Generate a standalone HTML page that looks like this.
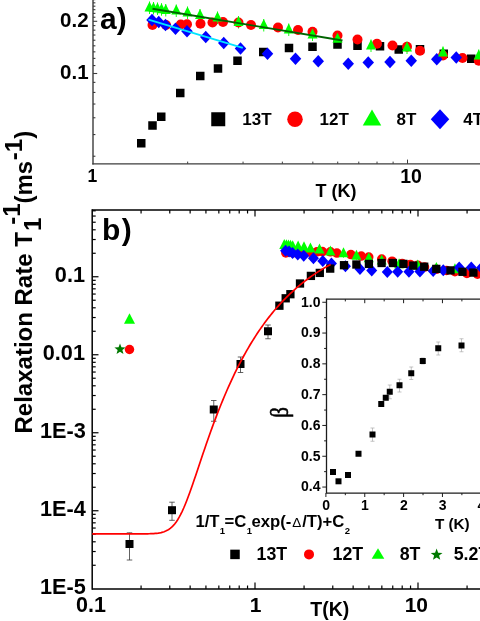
<!DOCTYPE html>
<html><head><meta charset="utf-8"><title>Relaxation Rate</title>
<style>html,body{margin:0;padding:0;background:#fff;overflow:hidden;width:480px;height:621px;}svg{display:block;position:absolute;left:0;top:-20px;filter:blur(0.45px);}</style></head>
<body>
<svg width="520" height="661" viewBox="0 -20 520 661">
<rect x="-20" y="-20" width="560" height="700" fill="#fff"/>
<line x1="93.00" y1="-15.00" x2="93.00" y2="164.40" stroke="#3c3c3c" stroke-width="1.4"/>
<line x1="92.30" y1="163.80" x2="510.00" y2="163.80" stroke="#3c3c3c" stroke-width="1.3"/>
<line x1="93.00" y1="156.23" x2="95.40" y2="156.23" stroke="#3c3c3c" stroke-width="1.1"/>
<line x1="93.00" y1="134.57" x2="95.40" y2="134.57" stroke="#3c3c3c" stroke-width="1.1"/>
<line x1="93.00" y1="117.76" x2="95.40" y2="117.76" stroke="#3c3c3c" stroke-width="1.1"/>
<line x1="93.00" y1="104.03" x2="95.40" y2="104.03" stroke="#3c3c3c" stroke-width="1.1"/>
<line x1="93.00" y1="92.43" x2="95.40" y2="92.43" stroke="#3c3c3c" stroke-width="1.1"/>
<line x1="93.00" y1="82.37" x2="95.40" y2="82.37" stroke="#3c3c3c" stroke-width="1.1"/>
<line x1="93.00" y1="73.50" x2="97.20" y2="73.50" stroke="#3c3c3c" stroke-width="1.1"/>
<line x1="93.00" y1="65.57" x2="95.40" y2="65.57" stroke="#3c3c3c" stroke-width="1.1"/>
<line x1="93.00" y1="58.39" x2="95.40" y2="58.39" stroke="#3c3c3c" stroke-width="1.1"/>
<line x1="93.00" y1="51.84" x2="95.40" y2="51.84" stroke="#3c3c3c" stroke-width="1.1"/>
<line x1="93.00" y1="45.81" x2="95.40" y2="45.81" stroke="#3c3c3c" stroke-width="1.1"/>
<line x1="93.00" y1="40.23" x2="95.40" y2="40.23" stroke="#3c3c3c" stroke-width="1.1"/>
<line x1="93.00" y1="35.03" x2="95.40" y2="35.03" stroke="#3c3c3c" stroke-width="1.1"/>
<line x1="93.00" y1="30.17" x2="95.40" y2="30.17" stroke="#3c3c3c" stroke-width="1.1"/>
<line x1="93.00" y1="25.61" x2="95.40" y2="25.61" stroke="#3c3c3c" stroke-width="1.1"/>
<line x1="93.00" y1="21.30" x2="97.20" y2="21.30" stroke="#3c3c3c" stroke-width="1.1"/>
<line x1="93.00" y1="17.23" x2="95.40" y2="17.23" stroke="#3c3c3c" stroke-width="1.1"/>
<line x1="93.00" y1="13.37" x2="95.40" y2="13.37" stroke="#3c3c3c" stroke-width="1.1"/>
<line x1="93.00" y1="9.69" x2="95.40" y2="9.69" stroke="#3c3c3c" stroke-width="1.1"/>
<line x1="93.00" y1="6.19" x2="95.40" y2="6.19" stroke="#3c3c3c" stroke-width="1.1"/>
<line x1="93.00" y1="2.84" x2="95.40" y2="2.84" stroke="#3c3c3c" stroke-width="1.1"/>
<line x1="93.00" y1="-0.36" x2="95.40" y2="-0.36" stroke="#3c3c3c" stroke-width="1.1"/>
<line x1="407.50" y1="163.80" x2="407.50" y2="159.60" stroke="#3c3c3c" stroke-width="1.0"/>
<line x1="187.67" y1="163.80" x2="187.67" y2="161.60" stroke="#3c3c3c" stroke-width="1.0"/>
<line x1="502.17" y1="163.80" x2="502.17" y2="161.60" stroke="#3c3c3c" stroke-width="1.0"/>
<line x1="243.05" y1="163.80" x2="243.05" y2="161.60" stroke="#3c3c3c" stroke-width="1.0"/>
<line x1="282.35" y1="163.80" x2="282.35" y2="161.60" stroke="#3c3c3c" stroke-width="1.0"/>
<line x1="312.83" y1="163.80" x2="312.83" y2="161.60" stroke="#3c3c3c" stroke-width="1.0"/>
<line x1="337.73" y1="163.80" x2="337.73" y2="161.60" stroke="#3c3c3c" stroke-width="1.0"/>
<line x1="358.78" y1="163.80" x2="358.78" y2="161.60" stroke="#3c3c3c" stroke-width="1.0"/>
<line x1="377.02" y1="163.80" x2="377.02" y2="161.60" stroke="#3c3c3c" stroke-width="1.0"/>
<line x1="393.11" y1="163.80" x2="393.11" y2="161.60" stroke="#3c3c3c" stroke-width="1.0"/>
<text transform="translate(88.6,26.9) scale(1.0,1)" font-size="20.5" text-anchor="end" font-family="Liberation Sans, sans-serif" font-weight="bold" >0.2</text>
<text transform="translate(88.6,79.1) scale(1.0,1)" font-size="20.5" text-anchor="end" font-family="Liberation Sans, sans-serif" font-weight="bold" >0.1</text>
<text transform="translate(100,28.6) scale(1.0,1)" font-size="30" text-anchor="start" font-family="Liberation Sans, sans-serif" font-weight="bold" >a)</text>
<text transform="translate(92.3,181.8) scale(1.0,1)" font-size="17.5" text-anchor="middle" font-family="Liberation Sans, sans-serif" font-weight="bold" >1</text>
<text transform="translate(411,182.5) scale(1.0,1)" font-size="19.5" text-anchor="middle" font-family="Liberation Sans, sans-serif" font-weight="bold" >10</text>
<text transform="translate(336,197.1) scale(1.0,1)" font-size="18" text-anchor="middle" font-family="Liberation Sans, sans-serif" font-weight="bold" >T (K)</text>
<line x1="149.50" y1="1.50" x2="149.50" y2="14.00" stroke="#0f0" stroke-width="0.9"/>
<line x1="153.50" y1="2.00" x2="153.50" y2="14.50" stroke="#0f0" stroke-width="0.9"/>
<line x1="157.50" y1="2.50" x2="157.50" y2="15.00" stroke="#0f0" stroke-width="0.9"/>
<line x1="161.50" y1="3.20" x2="161.50" y2="15.70" stroke="#0f0" stroke-width="0.9"/>
<line x1="165.75" y1="4.00" x2="165.75" y2="16.50" stroke="#0f0" stroke-width="0.9"/>
<line x1="176.25" y1="4.50" x2="176.25" y2="17.00" stroke="#0f0" stroke-width="0.9"/>
<line x1="187.50" y1="6.50" x2="187.50" y2="19.00" stroke="#0f0" stroke-width="0.9"/>
<line x1="200.00" y1="9.00" x2="200.00" y2="21.50" stroke="#0f0" stroke-width="0.9"/>
<line x1="217.50" y1="11.50" x2="217.50" y2="24.00" stroke="#0f0" stroke-width="0.9"/>
<line x1="238.50" y1="16.00" x2="238.50" y2="28.50" stroke="#0f0" stroke-width="0.9"/>
<line x1="263.75" y1="19.00" x2="263.75" y2="31.50" stroke="#0f0" stroke-width="0.9"/>
<line x1="288.75" y1="23.50" x2="288.75" y2="36.00" stroke="#0f0" stroke-width="0.9"/>
<line x1="312.50" y1="28.50" x2="312.50" y2="41.00" stroke="#0f0" stroke-width="0.9"/>
<line x1="337.50" y1="32.75" x2="337.50" y2="45.25" stroke="#0f0" stroke-width="0.9"/>
<line x1="371.00" y1="39.50" x2="371.00" y2="52.00" stroke="#0f0" stroke-width="0.9"/>
<line x1="407.00" y1="41.50" x2="407.00" y2="54.00" stroke="#0f0" stroke-width="0.9"/>
<line x1="443.00" y1="46.50" x2="443.00" y2="59.00" stroke="#0f0" stroke-width="0.9"/>
<line x1="478.75" y1="49.50" x2="478.75" y2="62.00" stroke="#0f0" stroke-width="0.9"/>
<rect x="137.00" y="139.00" width="8.5" height="8.5" fill="#000"/>
<rect x="148.25" y="121.25" width="8.5" height="8.5" fill="#000"/>
<rect x="157.00" y="112.50" width="8.5" height="8.5" fill="#000"/>
<rect x="176.00" y="88.75" width="8.5" height="8.5" fill="#000"/>
<rect x="196.00" y="71.75" width="8.5" height="8.5" fill="#000"/>
<rect x="213.75" y="64.25" width="8.5" height="8.5" fill="#000"/>
<rect x="233.25" y="56.50" width="8.5" height="8.5" fill="#000"/>
<rect x="259.00" y="47.75" width="8.5" height="8.5" fill="#000"/>
<rect x="284.75" y="43.75" width="8.5" height="8.5" fill="#000"/>
<rect x="308.25" y="42.50" width="8.5" height="8.5" fill="#000"/>
<rect x="333.25" y="40.25" width="8.5" height="8.5" fill="#000"/>
<rect x="353.25" y="41.50" width="8.5" height="8.5" fill="#000"/>
<rect x="375.75" y="42.00" width="8.5" height="8.5" fill="#000"/>
<rect x="394.50" y="45.25" width="8.5" height="8.5" fill="#000"/>
<rect x="415.75" y="45.00" width="8.5" height="8.5" fill="#000"/>
<rect x="439.50" y="49.50" width="8.5" height="8.5" fill="#000"/>
<rect x="467.00" y="54.50" width="8.5" height="8.5" fill="#000"/>
<circle cx="152.50" cy="25.00" r="5.0" fill="#f00"/>
<circle cx="166.00" cy="25.00" r="5.0" fill="#f00"/>
<circle cx="180.75" cy="24.50" r="5.0" fill="#f00"/>
<circle cx="187.00" cy="24.25" r="5.0" fill="#f00"/>
<circle cx="200.50" cy="23.75" r="5.0" fill="#f00"/>
<circle cx="212.50" cy="22.50" r="5.0" fill="#f00"/>
<circle cx="223.00" cy="22.00" r="5.0" fill="#f00"/>
<circle cx="238.50" cy="22.50" r="5.0" fill="#f00"/>
<circle cx="251.00" cy="25.00" r="5.0" fill="#f00"/>
<circle cx="278.00" cy="27.50" r="5.0" fill="#f00"/>
<circle cx="298.00" cy="30.00" r="5.0" fill="#f00"/>
<circle cx="312.50" cy="31.75" r="5.0" fill="#f00"/>
<circle cx="337.50" cy="35.50" r="5.0" fill="#f00"/>
<circle cx="357.50" cy="39.50" r="5.0" fill="#f00"/>
<circle cx="377.00" cy="43.75" r="5.0" fill="#f00"/>
<circle cx="392.50" cy="45.50" r="5.0" fill="#f00"/>
<circle cx="407.00" cy="46.75" r="5.0" fill="#f00"/>
<circle cx="420.00" cy="50.75" r="5.0" fill="#f00"/>
<circle cx="443.00" cy="55.50" r="5.0" fill="#f00"/>
<circle cx="462.50" cy="58.00" r="5.0" fill="#f00"/>
<circle cx="478.75" cy="60.75" r="5.0" fill="#f00"/>
<path d="M146.25 20.00 L152.00 13.75 L157.75 20.00 L152.00 26.25Z" fill="#00f"/>
<path d="M153.00 22.00 L158.75 15.75 L164.50 22.00 L158.75 28.25Z" fill="#00f"/>
<path d="M159.75 25.00 L165.50 18.75 L171.25 25.00 L165.50 31.25Z" fill="#00f"/>
<path d="M169.75 28.75 L175.50 22.50 L181.25 28.75 L175.50 35.00Z" fill="#00f"/>
<path d="M181.25 31.25 L187.00 25.00 L192.75 31.25 L187.00 37.50Z" fill="#00f"/>
<path d="M200.00 37.00 L205.75 30.75 L211.50 37.00 L205.75 43.25Z" fill="#00f"/>
<path d="M218.00 43.00 L223.75 36.75 L229.50 43.00 L223.75 49.25Z" fill="#00f"/>
<path d="M234.75 48.50 L240.50 42.25 L246.25 48.50 L240.50 54.75Z" fill="#00f"/>
<path d="M261.75 53.75 L267.50 47.50 L273.25 53.75 L267.50 60.00Z" fill="#00f"/>
<path d="M289.75 58.75 L295.50 52.50 L301.25 58.75 L295.50 65.00Z" fill="#00f"/>
<path d="M312.50 61.25 L318.25 55.00 L324.00 61.25 L318.25 67.50Z" fill="#00f"/>
<path d="M342.50 63.75 L348.25 57.50 L354.00 63.75 L348.25 70.00Z" fill="#00f"/>
<path d="M362.50 62.50 L368.25 56.25 L374.00 62.50 L368.25 68.75Z" fill="#00f"/>
<path d="M384.25 62.00 L390.00 55.75 L395.75 62.00 L390.00 68.25Z" fill="#00f"/>
<path d="M405.50 60.75 L411.25 54.50 L417.00 60.75 L411.25 67.00Z" fill="#00f"/>
<path d="M431.00 59.25 L436.75 53.00 L442.50 59.25 L436.75 65.50Z" fill="#00f"/>
<path d="M450.50 57.50 L456.25 51.25 L462.00 57.50 L456.25 63.75Z" fill="#00f"/>
<path d="M144.50 11.50 L154.50 11.50 L149.50 1.50Z" fill="#0f0"/>
<path d="M148.50 12.00 L158.50 12.00 L153.50 2.00Z" fill="#0f0"/>
<path d="M152.50 12.50 L162.50 12.50 L157.50 2.50Z" fill="#0f0"/>
<path d="M156.50 13.20 L166.50 13.20 L161.50 3.20Z" fill="#0f0"/>
<path d="M160.75 14.00 L170.75 14.00 L165.75 4.00Z" fill="#0f0"/>
<path d="M171.25 14.50 L181.25 14.50 L176.25 4.50Z" fill="#0f0"/>
<path d="M182.50 16.50 L192.50 16.50 L187.50 6.50Z" fill="#0f0"/>
<path d="M195.00 19.00 L205.00 19.00 L200.00 9.00Z" fill="#0f0"/>
<path d="M212.50 21.50 L222.50 21.50 L217.50 11.50Z" fill="#0f0"/>
<path d="M233.50 26.00 L243.50 26.00 L238.50 16.00Z" fill="#0f0"/>
<path d="M258.75 29.00 L268.75 29.00 L263.75 19.00Z" fill="#0f0"/>
<path d="M283.75 33.50 L293.75 33.50 L288.75 23.50Z" fill="#0f0"/>
<path d="M307.50 38.50 L317.50 38.50 L312.50 28.50Z" fill="#0f0"/>
<path d="M332.50 42.75 L342.50 42.75 L337.50 32.75Z" fill="#0f0"/>
<path d="M366.00 49.50 L376.00 49.50 L371.00 39.50Z" fill="#0f0"/>
<path d="M402.00 51.50 L412.00 51.50 L407.00 41.50Z" fill="#0f0"/>
<path d="M438.00 56.50 L448.00 56.50 L443.00 46.50Z" fill="#0f0"/>
<path d="M473.75 59.50 L483.75 59.50 L478.75 49.50Z" fill="#0f0"/>
<line x1="152.50" y1="8.75" x2="342.50" y2="40.50" stroke="#006400" stroke-width="1.9"/>
<line x1="148.50" y1="19.60" x2="242.80" y2="47.80" stroke="#00e5ff" stroke-width="1.9"/>
<rect x="211.25" y="112.25" width="14" height="14" fill="#000"/>
<text transform="translate(242.3,125.1) scale(1.0,1)" font-size="17" text-anchor="start" font-family="Liberation Sans, sans-serif" font-weight="bold" >13T</text>
<circle cx="295.00" cy="119.25" r="7.75" fill="#f00"/>
<text transform="translate(319.6,125.1) scale(1.0,1)" font-size="17" text-anchor="start" font-family="Liberation Sans, sans-serif" font-weight="bold" >12T</text>
<path d="M362.75 125.40 L381.25 125.40 L372.00 109.40Z" fill="#0f0"/>
<text transform="translate(396.5,125.1) scale(1.0,1)" font-size="17" text-anchor="start" font-family="Liberation Sans, sans-serif" font-weight="bold" >8T</text>
<path d="M430.75 119.25 L440.00 109.25 L449.25 119.25 L440.00 129.25Z" fill="#00f"/>
<text transform="translate(463.3,125.1) scale(1.0,1)" font-size="17" text-anchor="start" font-family="Liberation Sans, sans-serif" font-weight="bold" >4T</text>
<line x1="92.20" y1="209.30" x2="92.20" y2="589.70" stroke="#000" stroke-width="1.5"/>
<line x1="92.20" y1="210.00" x2="510.00" y2="210.00" stroke="#000" stroke-width="1.5"/>
<line x1="92.20" y1="589.00" x2="510.00" y2="589.00" stroke="#000" stroke-width="1.5"/>
<line x1="141.07" y1="210.00" x2="141.07" y2="213.50" stroke="#000" stroke-width="1.2"/>
<line x1="141.07" y1="589.00" x2="141.07" y2="585.50" stroke="#000" stroke-width="1.2"/>
<line x1="169.77" y1="210.00" x2="169.77" y2="213.50" stroke="#000" stroke-width="1.2"/>
<line x1="169.77" y1="589.00" x2="169.77" y2="585.50" stroke="#000" stroke-width="1.2"/>
<line x1="190.14" y1="210.00" x2="190.14" y2="213.50" stroke="#000" stroke-width="1.2"/>
<line x1="190.14" y1="589.00" x2="190.14" y2="585.50" stroke="#000" stroke-width="1.2"/>
<line x1="205.93" y1="210.00" x2="205.93" y2="213.50" stroke="#000" stroke-width="1.2"/>
<line x1="205.93" y1="589.00" x2="205.93" y2="585.50" stroke="#000" stroke-width="1.2"/>
<line x1="218.84" y1="210.00" x2="218.84" y2="213.50" stroke="#000" stroke-width="1.2"/>
<line x1="218.84" y1="589.00" x2="218.84" y2="585.50" stroke="#000" stroke-width="1.2"/>
<line x1="229.75" y1="210.00" x2="229.75" y2="213.50" stroke="#000" stroke-width="1.2"/>
<line x1="229.75" y1="589.00" x2="229.75" y2="585.50" stroke="#000" stroke-width="1.2"/>
<line x1="239.20" y1="210.00" x2="239.20" y2="213.50" stroke="#000" stroke-width="1.2"/>
<line x1="239.20" y1="589.00" x2="239.20" y2="585.50" stroke="#000" stroke-width="1.2"/>
<line x1="247.54" y1="210.00" x2="247.54" y2="213.50" stroke="#000" stroke-width="1.2"/>
<line x1="247.54" y1="589.00" x2="247.54" y2="585.50" stroke="#000" stroke-width="1.2"/>
<line x1="255.00" y1="210.00" x2="255.00" y2="216.50" stroke="#000" stroke-width="1.2"/>
<line x1="255.00" y1="589.00" x2="255.00" y2="582.50" stroke="#000" stroke-width="1.2"/>
<line x1="304.07" y1="210.00" x2="304.07" y2="213.50" stroke="#000" stroke-width="1.2"/>
<line x1="304.07" y1="589.00" x2="304.07" y2="585.50" stroke="#000" stroke-width="1.2"/>
<line x1="332.77" y1="210.00" x2="332.77" y2="213.50" stroke="#000" stroke-width="1.2"/>
<line x1="332.77" y1="589.00" x2="332.77" y2="585.50" stroke="#000" stroke-width="1.2"/>
<line x1="353.14" y1="210.00" x2="353.14" y2="213.50" stroke="#000" stroke-width="1.2"/>
<line x1="353.14" y1="589.00" x2="353.14" y2="585.50" stroke="#000" stroke-width="1.2"/>
<line x1="368.93" y1="210.00" x2="368.93" y2="213.50" stroke="#000" stroke-width="1.2"/>
<line x1="368.93" y1="589.00" x2="368.93" y2="585.50" stroke="#000" stroke-width="1.2"/>
<line x1="381.84" y1="210.00" x2="381.84" y2="213.50" stroke="#000" stroke-width="1.2"/>
<line x1="381.84" y1="589.00" x2="381.84" y2="585.50" stroke="#000" stroke-width="1.2"/>
<line x1="392.75" y1="210.00" x2="392.75" y2="213.50" stroke="#000" stroke-width="1.2"/>
<line x1="392.75" y1="589.00" x2="392.75" y2="585.50" stroke="#000" stroke-width="1.2"/>
<line x1="402.20" y1="210.00" x2="402.20" y2="213.50" stroke="#000" stroke-width="1.2"/>
<line x1="402.20" y1="589.00" x2="402.20" y2="585.50" stroke="#000" stroke-width="1.2"/>
<line x1="410.54" y1="210.00" x2="410.54" y2="213.50" stroke="#000" stroke-width="1.2"/>
<line x1="410.54" y1="589.00" x2="410.54" y2="585.50" stroke="#000" stroke-width="1.2"/>
<line x1="418.00" y1="210.00" x2="418.00" y2="216.50" stroke="#000" stroke-width="1.2"/>
<line x1="418.00" y1="589.00" x2="418.00" y2="582.50" stroke="#000" stroke-width="1.2"/>
<line x1="467.07" y1="210.00" x2="467.07" y2="213.50" stroke="#000" stroke-width="1.2"/>
<line x1="467.07" y1="589.00" x2="467.07" y2="585.50" stroke="#000" stroke-width="1.2"/>
<line x1="495.77" y1="210.00" x2="495.77" y2="213.50" stroke="#000" stroke-width="1.2"/>
<line x1="495.77" y1="589.00" x2="495.77" y2="585.50" stroke="#000" stroke-width="1.2"/>
<line x1="92.20" y1="565.27" x2="95.70" y2="565.27" stroke="#000" stroke-width="1.2"/>
<line x1="92.20" y1="551.53" x2="95.70" y2="551.53" stroke="#000" stroke-width="1.2"/>
<line x1="92.20" y1="541.79" x2="95.70" y2="541.79" stroke="#000" stroke-width="1.2"/>
<line x1="92.20" y1="534.23" x2="95.70" y2="534.23" stroke="#000" stroke-width="1.2"/>
<line x1="92.20" y1="528.05" x2="95.70" y2="528.05" stroke="#000" stroke-width="1.2"/>
<line x1="92.20" y1="522.83" x2="95.70" y2="522.83" stroke="#000" stroke-width="1.2"/>
<line x1="92.20" y1="518.31" x2="95.70" y2="518.31" stroke="#000" stroke-width="1.2"/>
<line x1="92.20" y1="514.32" x2="95.70" y2="514.32" stroke="#000" stroke-width="1.2"/>
<line x1="92.20" y1="510.75" x2="98.50" y2="510.75" stroke="#000" stroke-width="1.2"/>
<line x1="92.20" y1="487.27" x2="95.70" y2="487.27" stroke="#000" stroke-width="1.2"/>
<line x1="92.20" y1="473.53" x2="95.70" y2="473.53" stroke="#000" stroke-width="1.2"/>
<line x1="92.20" y1="463.79" x2="95.70" y2="463.79" stroke="#000" stroke-width="1.2"/>
<line x1="92.20" y1="456.23" x2="95.70" y2="456.23" stroke="#000" stroke-width="1.2"/>
<line x1="92.20" y1="450.05" x2="95.70" y2="450.05" stroke="#000" stroke-width="1.2"/>
<line x1="92.20" y1="444.83" x2="95.70" y2="444.83" stroke="#000" stroke-width="1.2"/>
<line x1="92.20" y1="440.31" x2="95.70" y2="440.31" stroke="#000" stroke-width="1.2"/>
<line x1="92.20" y1="436.32" x2="95.70" y2="436.32" stroke="#000" stroke-width="1.2"/>
<line x1="92.20" y1="432.75" x2="98.50" y2="432.75" stroke="#000" stroke-width="1.2"/>
<line x1="92.20" y1="409.27" x2="95.70" y2="409.27" stroke="#000" stroke-width="1.2"/>
<line x1="92.20" y1="395.53" x2="95.70" y2="395.53" stroke="#000" stroke-width="1.2"/>
<line x1="92.20" y1="385.79" x2="95.70" y2="385.79" stroke="#000" stroke-width="1.2"/>
<line x1="92.20" y1="378.23" x2="95.70" y2="378.23" stroke="#000" stroke-width="1.2"/>
<line x1="92.20" y1="372.05" x2="95.70" y2="372.05" stroke="#000" stroke-width="1.2"/>
<line x1="92.20" y1="366.83" x2="95.70" y2="366.83" stroke="#000" stroke-width="1.2"/>
<line x1="92.20" y1="362.31" x2="95.70" y2="362.31" stroke="#000" stroke-width="1.2"/>
<line x1="92.20" y1="358.32" x2="95.70" y2="358.32" stroke="#000" stroke-width="1.2"/>
<line x1="92.20" y1="354.75" x2="98.50" y2="354.75" stroke="#000" stroke-width="1.2"/>
<line x1="92.20" y1="331.27" x2="95.70" y2="331.27" stroke="#000" stroke-width="1.2"/>
<line x1="92.20" y1="317.53" x2="95.70" y2="317.53" stroke="#000" stroke-width="1.2"/>
<line x1="92.20" y1="307.79" x2="95.70" y2="307.79" stroke="#000" stroke-width="1.2"/>
<line x1="92.20" y1="300.23" x2="95.70" y2="300.23" stroke="#000" stroke-width="1.2"/>
<line x1="92.20" y1="294.05" x2="95.70" y2="294.05" stroke="#000" stroke-width="1.2"/>
<line x1="92.20" y1="288.83" x2="95.70" y2="288.83" stroke="#000" stroke-width="1.2"/>
<line x1="92.20" y1="284.31" x2="95.70" y2="284.31" stroke="#000" stroke-width="1.2"/>
<line x1="92.20" y1="280.32" x2="95.70" y2="280.32" stroke="#000" stroke-width="1.2"/>
<line x1="92.20" y1="276.75" x2="98.50" y2="276.75" stroke="#000" stroke-width="1.2"/>
<line x1="92.20" y1="253.27" x2="95.70" y2="253.27" stroke="#000" stroke-width="1.2"/>
<line x1="92.20" y1="239.53" x2="95.70" y2="239.53" stroke="#000" stroke-width="1.2"/>
<line x1="92.20" y1="229.79" x2="95.70" y2="229.79" stroke="#000" stroke-width="1.2"/>
<line x1="92.20" y1="222.23" x2="95.70" y2="222.23" stroke="#000" stroke-width="1.2"/>
<line x1="92.20" y1="216.05" x2="95.70" y2="216.05" stroke="#000" stroke-width="1.2"/>
<line x1="92.20" y1="210.83" x2="95.70" y2="210.83" stroke="#000" stroke-width="1.2"/>
<text transform="translate(85.0,282.25) scale(1.0,1)" font-size="21.7" text-anchor="end" font-family="Liberation Sans, sans-serif" font-weight="bold" >0.1</text>
<text transform="translate(85.0,360.25) scale(1.0,1)" font-size="21.7" text-anchor="end" font-family="Liberation Sans, sans-serif" font-weight="bold" >0.01</text>
<text transform="translate(85.8,438.25) scale(1.0,1)" font-size="21.7" text-anchor="end" font-family="Liberation Sans, sans-serif" font-weight="bold" >1E-3</text>
<text transform="translate(85.8,516.25) scale(1.0,1)" font-size="21.7" text-anchor="end" font-family="Liberation Sans, sans-serif" font-weight="bold" >1E-4</text>
<text transform="translate(85.8,594.3) scale(1.0,1)" font-size="21.7" text-anchor="end" font-family="Liberation Sans, sans-serif" font-weight="bold" >1E-5</text>
<text transform="translate(91,611.6) scale(1.0,1)" font-size="21.5" text-anchor="middle" font-family="Liberation Sans, sans-serif" font-weight="bold" >0.1</text>
<text transform="translate(255.5,611.5) scale(1.0,1)" font-size="21" text-anchor="middle" font-family="Liberation Sans, sans-serif" font-weight="bold" >1</text>
<text transform="translate(416.3,611.5) scale(1.0,1)" font-size="21" text-anchor="middle" font-family="Liberation Sans, sans-serif" font-weight="bold" >10</text>
<text transform="translate(329.8,616.4) scale(1.0,1)" font-size="19.5" text-anchor="middle" font-family="Liberation Sans, sans-serif" font-weight="bold" >T(K)</text>
<text transform="translate(102,239.5) scale(1.0,1)" font-size="30" text-anchor="start" font-family="Liberation Sans, sans-serif" font-weight="bold" letter-spacing="1.3">b)</text>
<line x1="284.28" y1="241.06" x2="284.28" y2="249.56" stroke="#0f0" stroke-width="0.8"/>
<line x1="286.36" y1="241.29" x2="286.36" y2="249.79" stroke="#0f0" stroke-width="0.8"/>
<line x1="288.43" y1="241.51" x2="288.43" y2="250.01" stroke="#0f0" stroke-width="0.8"/>
<line x1="290.50" y1="241.83" x2="290.50" y2="250.33" stroke="#0f0" stroke-width="0.8"/>
<line x1="292.71" y1="242.19" x2="292.71" y2="250.69" stroke="#0f0" stroke-width="0.8"/>
<line x1="298.15" y1="242.41" x2="298.15" y2="250.91" stroke="#0f0" stroke-width="0.8"/>
<line x1="303.98" y1="243.31" x2="303.98" y2="251.81" stroke="#0f0" stroke-width="0.8"/>
<line x1="310.46" y1="244.44" x2="310.46" y2="252.94" stroke="#0f0" stroke-width="0.8"/>
<line x1="319.53" y1="245.56" x2="319.53" y2="254.06" stroke="#0f0" stroke-width="0.8"/>
<line x1="330.41" y1="247.58" x2="330.41" y2="256.08" stroke="#0f0" stroke-width="0.8"/>
<line x1="343.50" y1="249.27" x2="343.50" y2="257.77" stroke="#0f0" stroke-width="0.8"/>
<line x1="356.45" y1="251.68" x2="356.45" y2="260.18" stroke="#0f0" stroke-width="0.8"/>
<line x1="368.76" y1="254.29" x2="368.76" y2="262.79" stroke="#0f0" stroke-width="0.8"/>
<line x1="381.72" y1="256.58" x2="381.72" y2="265.08" stroke="#0f0" stroke-width="0.8"/>
<line x1="399.08" y1="260.13" x2="399.08" y2="268.63" stroke="#0f0" stroke-width="0.8"/>
<line x1="417.74" y1="261.47" x2="417.74" y2="269.97" stroke="#0f0" stroke-width="0.8"/>
<line x1="436.40" y1="264.00" x2="436.40" y2="272.50" stroke="#0f0" stroke-width="0.8"/>
<line x1="454.93" y1="265.35" x2="454.93" y2="273.85" stroke="#0f0" stroke-width="0.8"/>
<circle cx="285.84" cy="252.93" r="4.75" fill="#f00"/>
<circle cx="292.83" cy="252.93" r="4.75" fill="#f00"/>
<circle cx="300.48" cy="252.71" r="4.75" fill="#f00"/>
<circle cx="303.72" cy="252.60" r="4.75" fill="#f00"/>
<circle cx="310.72" cy="252.37" r="4.75" fill="#f00"/>
<circle cx="316.93" cy="251.81" r="4.75" fill="#f00"/>
<circle cx="322.38" cy="251.58" r="4.75" fill="#f00"/>
<circle cx="330.41" cy="251.81" r="4.75" fill="#f00"/>
<circle cx="336.89" cy="253.08" r="4.75" fill="#f00"/>
<circle cx="350.88" cy="254.61" r="4.75" fill="#f00"/>
<circle cx="361.25" cy="256.04" r="4.75" fill="#f00"/>
<circle cx="368.76" cy="257.05" r="4.75" fill="#f00"/>
<circle cx="381.72" cy="259.12" r="4.75" fill="#f00"/>
<circle cx="392.09" cy="261.22" r="4.75" fill="#f00"/>
<circle cx="402.19" cy="263.42" r="4.75" fill="#f00"/>
<circle cx="410.23" cy="264.39" r="4.75" fill="#f00"/>
<circle cx="417.74" cy="265.13" r="4.75" fill="#f00"/>
<circle cx="424.48" cy="267.09" r="4.75" fill="#f00"/>
<circle cx="436.40" cy="269.35" r="4.75" fill="#f00"/>
<circle cx="446.51" cy="270.48" r="4.75" fill="#f00"/>
<circle cx="454.93" cy="271.71" r="4.75" fill="#f00"/>
<circle cx="466.90" cy="273.50" r="4.75" fill="#f00"/>
<circle cx="477.50" cy="274.20" r="4.75" fill="#f00"/>
<path d="M279.28 249.06 L289.28 249.06 L284.28 239.06Z" fill="#0f0"/>
<path d="M281.36 249.29 L291.36 249.29 L286.36 239.29Z" fill="#0f0"/>
<path d="M283.43 249.51 L293.43 249.51 L288.43 239.51Z" fill="#0f0"/>
<path d="M285.50 249.83 L295.50 249.83 L290.50 239.83Z" fill="#0f0"/>
<path d="M287.71 250.19 L297.71 250.19 L292.71 240.19Z" fill="#0f0"/>
<path d="M293.15 250.41 L303.15 250.41 L298.15 240.41Z" fill="#0f0"/>
<path d="M298.98 251.31 L308.98 251.31 L303.98 241.31Z" fill="#0f0"/>
<path d="M305.46 252.44 L315.46 252.44 L310.46 242.44Z" fill="#0f0"/>
<path d="M314.53 253.56 L324.53 253.56 L319.53 243.56Z" fill="#0f0"/>
<path d="M325.41 255.58 L335.41 255.58 L330.41 245.58Z" fill="#0f0"/>
<path d="M338.50 257.27 L348.50 257.27 L343.50 247.27Z" fill="#0f0"/>
<path d="M351.45 259.68 L361.45 259.68 L356.45 249.68Z" fill="#0f0"/>
<path d="M363.76 262.29 L373.76 262.29 L368.76 252.29Z" fill="#0f0"/>
<path d="M376.72 264.58 L386.72 264.58 L381.72 254.58Z" fill="#0f0"/>
<path d="M394.08 268.13 L404.08 268.13 L399.08 258.13Z" fill="#0f0"/>
<path d="M412.74 269.47 L422.74 269.47 L417.74 259.47Z" fill="#0f0"/>
<path d="M431.40 272.00 L441.40 272.00 L436.40 262.00Z" fill="#0f0"/>
<path d="M449.93 273.35 L459.93 273.35 L454.93 263.35Z" fill="#0f0"/>
<path d="M280.08 250.68 L285.58 244.68 L291.08 250.68 L285.58 256.68Z" fill="#00f"/>
<path d="M283.58 251.58 L289.08 245.58 L294.58 251.58 L289.08 257.58Z" fill="#00f"/>
<path d="M287.08 252.93 L292.58 246.93 L298.08 252.93 L292.58 258.93Z" fill="#00f"/>
<path d="M292.26 254.62 L297.76 248.62 L303.26 254.62 L297.76 260.62Z" fill="#00f"/>
<path d="M298.22 255.74 L303.72 249.74 L309.22 255.74 L303.72 261.74Z" fill="#00f"/>
<path d="M307.94 258.33 L313.44 252.33 L318.94 258.33 L313.44 264.33Z" fill="#00f"/>
<path d="M317.27 261.03 L322.77 255.03 L328.27 261.03 L322.77 267.03Z" fill="#00f"/>
<path d="M325.95 263.50 L331.45 257.50 L336.95 263.50 L331.45 269.50Z" fill="#00f"/>
<path d="M339.94 266.26 L345.44 260.26 L350.94 266.26 L345.44 272.26Z" fill="#00f"/>
<path d="M354.45 268.94 L359.95 262.94 L365.45 268.94 L359.95 274.94Z" fill="#00f"/>
<path d="M366.24 270.41 L371.74 264.41 L377.24 270.41 L371.74 276.41Z" fill="#00f"/>
<path d="M381.79 271.99 L387.29 265.99 L392.79 271.99 L387.29 277.99Z" fill="#00f"/>
<path d="M392.16 271.73 L397.66 265.73 L403.16 271.73 L397.66 277.73Z" fill="#00f"/>
<path d="M403.43 271.79 L408.93 265.79 L414.43 271.79 L408.93 277.79Z" fill="#00f"/>
<path d="M414.44 271.48 L419.94 265.48 L425.44 271.48 L419.94 277.48Z" fill="#00f"/>
<path d="M427.66 271.04 L433.16 265.04 L438.66 271.04 L433.16 277.04Z" fill="#00f"/>
<path d="M437.77 270.25 L443.27 264.25 L448.77 270.25 L443.27 276.25Z" fill="#00f"/>
<path d="M453.70 267.40 L459.20 261.40 L464.70 267.40 L459.20 273.40Z" fill="#00f"/>
<path d="M465.80 267.40 L471.30 261.40 L476.80 267.40 L471.30 273.40Z" fill="#00f"/>
<path d="M476.00 267.80 L481.50 261.80 L487.00 267.80 L481.50 273.80Z" fill="#00f"/>
<line x1="129.50" y1="532.80" x2="129.50" y2="560.00" stroke="#3a3a3a" stroke-width="0.8"/>
<line x1="126.75" y1="532.80" x2="132.25" y2="532.80" stroke="#3a3a3a" stroke-width="0.8"/>
<line x1="126.75" y1="560.00" x2="132.25" y2="560.00" stroke="#3a3a3a" stroke-width="0.8"/>
<line x1="172.00" y1="502.20" x2="172.00" y2="520.30" stroke="#3a3a3a" stroke-width="0.8"/>
<line x1="169.25" y1="502.20" x2="174.75" y2="502.20" stroke="#3a3a3a" stroke-width="0.8"/>
<line x1="169.25" y1="520.30" x2="174.75" y2="520.30" stroke="#3a3a3a" stroke-width="0.8"/>
<line x1="213.75" y1="400.50" x2="213.75" y2="421.25" stroke="#3a3a3a" stroke-width="0.8"/>
<line x1="211.00" y1="400.50" x2="216.50" y2="400.50" stroke="#3a3a3a" stroke-width="0.8"/>
<line x1="211.00" y1="421.25" x2="216.50" y2="421.25" stroke="#3a3a3a" stroke-width="0.8"/>
<line x1="240.50" y1="357.00" x2="240.50" y2="372.50" stroke="#3a3a3a" stroke-width="0.8"/>
<line x1="237.75" y1="357.00" x2="243.25" y2="357.00" stroke="#3a3a3a" stroke-width="0.8"/>
<line x1="237.75" y1="372.50" x2="243.25" y2="372.50" stroke="#3a3a3a" stroke-width="0.8"/>
<line x1="268.00" y1="325.00" x2="268.00" y2="338.75" stroke="#3a3a3a" stroke-width="0.8"/>
<line x1="265.25" y1="325.00" x2="270.75" y2="325.00" stroke="#3a3a3a" stroke-width="0.8"/>
<line x1="265.25" y1="338.75" x2="270.75" y2="338.75" stroke="#3a3a3a" stroke-width="0.8"/>
<rect x="125.50" y="540.00" width="8" height="8" fill="#000"/>
<rect x="168.00" y="506.20" width="8" height="8" fill="#000"/>
<rect x="209.75" y="405.50" width="8" height="8" fill="#000"/>
<rect x="236.50" y="360.00" width="8" height="8" fill="#000"/>
<rect x="264.00" y="327.25" width="8" height="8" fill="#000"/>
<rect x="275.25" y="301.55" width="8.3" height="8.3" fill="#000"/>
<rect x="281.55" y="294.15" width="8.3" height="8.3" fill="#000"/>
<rect x="286.25" y="290.05" width="8.3" height="8.3" fill="#000"/>
<rect x="295.85" y="279.35" width="8.3" height="8.3" fill="#000"/>
<rect x="306.75" y="271.75" width="8.3" height="8.3" fill="#000"/>
<rect x="315.65" y="268.75" width="8.3" height="8.3" fill="#000"/>
<rect x="326.05" y="264.45" width="8.3" height="8.3" fill="#000"/>
<rect x="339.85" y="261.05" width="8.3" height="8.3" fill="#000"/>
<rect x="352.25" y="260.35" width="8.3" height="8.3" fill="#000"/>
<rect x="364.75" y="259.75" width="8.3" height="8.3" fill="#000"/>
<rect x="377.45" y="258.85" width="8.3" height="8.3" fill="#000"/>
<rect x="388.75" y="258.85" width="8.3" height="8.3" fill="#000"/>
<rect x="399.25" y="259.75" width="8.3" height="8.3" fill="#000"/>
<rect x="409.15" y="261.45" width="8.3" height="8.3" fill="#000"/>
<rect x="420.05" y="262.55" width="8.3" height="8.3" fill="#000"/>
<rect x="432.15" y="264.75" width="8.3" height="8.3" fill="#000"/>
<rect x="446.35" y="266.25" width="8.3" height="8.3" fill="#000"/>
<rect x="458.35" y="267.65" width="8.3" height="8.3" fill="#000"/>
<rect x="469.25" y="268.45" width="8.3" height="8.3" fill="#000"/>
<polyline points="92.2,533.89 93.7,533.89 95.2,533.89 96.7,533.89 98.2,533.89 99.7,533.89 101.2,533.89 102.7,533.89 104.2,533.89 105.7,533.89 107.2,533.89 108.7,533.89 110.2,533.89 111.7,533.89 113.2,533.89 114.7,533.89 116.2,533.89 117.7,533.89 119.2,533.89 120.7,533.89 122.2,533.89 123.7,533.89 125.2,533.89 126.7,533.89 128.2,533.89 129.7,533.89 131.2,533.89 132.7,533.89 134.2,533.89 135.7,533.89 137.2,533.88 138.7,533.88 140.2,533.87 141.7,533.87 143.2,533.85 144.7,533.84 146.2,533.82 147.7,533.79 149.2,533.75 150.7,533.70 152.2,533.64 153.7,533.55 155.2,533.43 156.7,533.29 158.2,533.10 159.7,532.86 161.2,532.55 162.7,532.17 164.2,531.69 165.7,531.09 167.2,530.37 168.7,529.48 170.2,528.42 171.7,527.16 173.2,525.67 174.7,523.95 176.2,521.96 177.7,519.71 179.2,517.18 180.7,514.39 182.2,511.33 183.7,508.02 185.2,504.48 186.7,500.73 188.2,496.81 189.7,492.73 191.2,488.52 192.7,484.22 194.2,479.84 195.7,475.41 197.2,470.94 198.7,466.46 200.2,461.98 201.7,457.51 203.2,453.08 204.7,448.67 206.2,444.31 207.7,440.00 209.2,435.74 210.7,431.54 212.2,427.40 213.7,423.33 215.2,419.33 216.7,415.39 218.2,411.52 219.7,407.72 221.2,403.99 222.7,400.33 224.2,396.73 225.7,393.21 227.2,389.75 228.7,386.37 230.2,383.04 231.7,379.79 233.2,376.60 234.7,373.47 236.2,370.41 237.7,367.41 239.2,364.47 240.7,361.59 242.2,358.77 243.7,356.00 245.2,353.30 246.7,350.65 248.2,348.05 249.7,345.51 251.2,343.02 252.7,340.58 254.2,338.19 255.7,335.85 257.2,333.56 258.7,331.32 260.2,329.13 261.7,326.98 263.2,324.87 264.7,322.81 266.2,320.79 267.7,318.82 269.2,316.88 270.7,314.99 272.2,313.13 273.7,311.32 275.2,309.54 276.7,307.80 278.2,306.09 279.7,304.42 281.2,302.79 282.7,301.19 284.2,299.62 285.7,298.09 287.2,296.59 288.7,295.12 290.2,293.68 291.7,292.27 293.2,290.89 294.7,289.54 296.2,288.22 297.7,286.92 299.2,285.65 300.7,284.41 302.2,283.20 303.7,282.01 305.2,280.84 306.7,279.70 308.2,278.58 309.7,277.49 311.2,276.42 312.7,275.37 314.2,274.35 315.7,273.34 317.2,272.36 318.7,271.40 320.2,270.45 321.7,269.53 323.2,268.63 324.7,267.74 326.2,266.88 327.7,266.03 329.2,265.20 330.7,264.39" fill="none" stroke="#f00" stroke-width="1.7"/>
<path d="M124.00 323.70 L135.00 323.70 L129.50 313.20Z" fill="#0f0"/>
<circle cx="129.50" cy="349.50" r="4.75" fill="#f00"/>
<polygon points="120.00,343.40 121.46,347.30 125.61,347.48 122.36,350.07 123.47,354.07 120.00,351.78 116.53,354.07 117.64,350.07 114.39,347.48 118.54,347.30" fill="#007800"/>
<text x="195.4" y="526.6" font-size="16.7" font-family="Liberation Sans, sans-serif" font-weight="bold">1/T<tspan font-size="9.5" dy="7.5" dx="0.3">1</tspan><tspan dy="-7.5" dx="-0.5">=C</tspan><tspan font-size="9.5" dy="7.5" dx="0.3">1</tspan><tspan dy="-7.5" dx="-0.5">exp(-</tspan><tspan font-weight="normal" font-size="13.5" dx="0.9">Δ</tspan><tspan dx="0.9">/T)+C</tspan><tspan font-size="9.5" dy="7.5" dx="0.3">2</tspan></text>
<rect x="230.25" y="549.65" width="9.5" height="9.5" fill="#000"/>
<text transform="translate(256.5,559.7) scale(1.0,1)" font-size="17.8" text-anchor="start" font-family="Liberation Sans, sans-serif" font-weight="bold" >13T</text>
<circle cx="309.00" cy="554.40" r="5.0" fill="#f00"/>
<text transform="translate(332.5,559.7) scale(1.0,1)" font-size="17.8" text-anchor="start" font-family="Liberation Sans, sans-serif" font-weight="bold" >12T</text>
<path d="M371.70 558.70 L384.30 558.70 L378.00 548.20Z" fill="#0f0"/>
<text transform="translate(399.7,559.7) scale(1.0,1)" font-size="17.8" text-anchor="start" font-family="Liberation Sans, sans-serif" font-weight="bold" >8T</text>
<polygon points="436.60,548.60 438.13,552.69 442.50,552.88 439.08,555.60 440.24,559.82 436.60,557.40 432.96,559.82 434.12,555.60 430.70,552.88 435.07,552.69" fill="#007800"/>
<text transform="translate(453.7,559.7) scale(1.0,1)" font-size="17.8" text-anchor="start" font-family="Liberation Sans, sans-serif" font-weight="bold" >5.2T</text>
<rect x="326.5" y="299.2" width="200" height="193.8" fill="#fff"/>
<line x1="326.50" y1="298.60" x2="326.50" y2="493.60" stroke="#1c1c1c" stroke-width="1.3"/>
<line x1="326.50" y1="299.20" x2="510.00" y2="299.20" stroke="#1c1c1c" stroke-width="1.25"/>
<line x1="326.50" y1="493.00" x2="510.00" y2="493.00" stroke="#1c1c1c" stroke-width="1.25"/>
<line x1="326.50" y1="487.05" x2="322.30" y2="487.05" stroke="#1c1c1c" stroke-width="1.0"/>
<text transform="translate(320.5,491.35) scale(1.0,1)" font-size="14" text-anchor="end" font-family="Liberation Sans, sans-serif" font-weight="bold" >0.4</text>
<line x1="326.50" y1="471.65" x2="324.10" y2="471.65" stroke="#1c1c1c" stroke-width="1.0"/>
<line x1="326.50" y1="456.25" x2="322.30" y2="456.25" stroke="#1c1c1c" stroke-width="1.0"/>
<text transform="translate(320.5,460.55) scale(1.0,1)" font-size="14" text-anchor="end" font-family="Liberation Sans, sans-serif" font-weight="bold" >0.5</text>
<line x1="326.50" y1="440.85" x2="324.10" y2="440.85" stroke="#1c1c1c" stroke-width="1.0"/>
<line x1="326.50" y1="425.45" x2="322.30" y2="425.45" stroke="#1c1c1c" stroke-width="1.0"/>
<text transform="translate(320.5,429.75) scale(1.0,1)" font-size="14" text-anchor="end" font-family="Liberation Sans, sans-serif" font-weight="bold" >0.6</text>
<line x1="326.50" y1="410.05" x2="324.10" y2="410.05" stroke="#1c1c1c" stroke-width="1.0"/>
<line x1="326.50" y1="394.65" x2="322.30" y2="394.65" stroke="#1c1c1c" stroke-width="1.0"/>
<text transform="translate(320.5,398.95) scale(1.0,1)" font-size="14" text-anchor="end" font-family="Liberation Sans, sans-serif" font-weight="bold" >0.7</text>
<line x1="326.50" y1="379.25" x2="324.10" y2="379.25" stroke="#1c1c1c" stroke-width="1.0"/>
<line x1="326.50" y1="363.85" x2="322.30" y2="363.85" stroke="#1c1c1c" stroke-width="1.0"/>
<text transform="translate(320.5,368.15) scale(1.0,1)" font-size="14" text-anchor="end" font-family="Liberation Sans, sans-serif" font-weight="bold" >0.8</text>
<line x1="326.50" y1="348.45" x2="324.10" y2="348.45" stroke="#1c1c1c" stroke-width="1.0"/>
<line x1="326.50" y1="333.05" x2="322.30" y2="333.05" stroke="#1c1c1c" stroke-width="1.0"/>
<text transform="translate(320.5,337.35) scale(1.0,1)" font-size="14" text-anchor="end" font-family="Liberation Sans, sans-serif" font-weight="bold" >0.9</text>
<line x1="326.50" y1="317.65" x2="324.10" y2="317.65" stroke="#1c1c1c" stroke-width="1.0"/>
<line x1="326.50" y1="302.25" x2="322.30" y2="302.25" stroke="#1c1c1c" stroke-width="1.0"/>
<text transform="translate(320.5,306.55) scale(1.0,1)" font-size="14" text-anchor="end" font-family="Liberation Sans, sans-serif" font-weight="bold" >1.0</text>
<line x1="325.90" y1="493.00" x2="325.90" y2="497.00" stroke="#1c1c1c" stroke-width="1.0"/>
<text transform="translate(326.09999999999997,509.8) scale(1.0,1)" font-size="14" text-anchor="middle" font-family="Liberation Sans, sans-serif" font-weight="bold" >0</text>
<line x1="345.32" y1="493.00" x2="345.32" y2="495.20" stroke="#1c1c1c" stroke-width="1.0"/>
<line x1="345.32" y1="299.20" x2="345.32" y2="301.40" stroke="#1c1c1c" stroke-width="1.0"/>
<line x1="364.75" y1="493.00" x2="364.75" y2="497.00" stroke="#1c1c1c" stroke-width="1.0"/>
<line x1="364.75" y1="299.20" x2="364.75" y2="303.20" stroke="#1c1c1c" stroke-width="1.0"/>
<text transform="translate(364.95,509.8) scale(1.0,1)" font-size="14" text-anchor="middle" font-family="Liberation Sans, sans-serif" font-weight="bold" >1</text>
<line x1="384.17" y1="493.00" x2="384.17" y2="495.20" stroke="#1c1c1c" stroke-width="1.0"/>
<line x1="384.17" y1="299.20" x2="384.17" y2="301.40" stroke="#1c1c1c" stroke-width="1.0"/>
<line x1="403.60" y1="493.00" x2="403.60" y2="497.00" stroke="#1c1c1c" stroke-width="1.0"/>
<line x1="403.60" y1="299.20" x2="403.60" y2="303.20" stroke="#1c1c1c" stroke-width="1.0"/>
<text transform="translate(403.79999999999995,509.8) scale(1.0,1)" font-size="14" text-anchor="middle" font-family="Liberation Sans, sans-serif" font-weight="bold" >2</text>
<line x1="423.02" y1="493.00" x2="423.02" y2="495.20" stroke="#1c1c1c" stroke-width="1.0"/>
<line x1="423.02" y1="299.20" x2="423.02" y2="301.40" stroke="#1c1c1c" stroke-width="1.0"/>
<line x1="442.45" y1="493.00" x2="442.45" y2="497.00" stroke="#1c1c1c" stroke-width="1.0"/>
<line x1="442.45" y1="299.20" x2="442.45" y2="303.20" stroke="#1c1c1c" stroke-width="1.0"/>
<text transform="translate(442.65,509.8) scale(1.0,1)" font-size="14" text-anchor="middle" font-family="Liberation Sans, sans-serif" font-weight="bold" >3</text>
<line x1="461.88" y1="493.00" x2="461.88" y2="495.20" stroke="#1c1c1c" stroke-width="1.0"/>
<line x1="461.88" y1="299.20" x2="461.88" y2="301.40" stroke="#1c1c1c" stroke-width="1.0"/>
<line x1="481.30" y1="493.00" x2="481.30" y2="497.00" stroke="#1c1c1c" stroke-width="1.0"/>
<line x1="481.30" y1="299.20" x2="481.30" y2="303.20" stroke="#1c1c1c" stroke-width="1.0"/>
<text transform="translate(481.49999999999994,509.8) scale(1.0,1)" font-size="14" text-anchor="middle" font-family="Liberation Sans, sans-serif" font-weight="bold" >4</text>
<text transform="translate(452.3,529) scale(1.0,1)" font-size="15.3" text-anchor="middle" font-family="Liberation Sans, sans-serif" font-weight="bold" >T (K)</text>
<text x="0" y="0" font-size="22" font-family="Liberation Serif, serif" stroke="#000" stroke-width="0.55" transform="translate(287.6,417.8) rotate(-90) scale(0.95,1.1)">β</text>
<line x1="372.50" y1="428.00" x2="372.50" y2="441.25" stroke="#aaa" stroke-width="0.7"/>
<line x1="370.50" y1="428.00" x2="374.50" y2="428.00" stroke="#aaa" stroke-width="0.7"/>
<line x1="370.50" y1="441.25" x2="374.50" y2="441.25" stroke="#aaa" stroke-width="0.7"/>
<line x1="389.75" y1="385.00" x2="389.75" y2="398.75" stroke="#aaa" stroke-width="0.7"/>
<line x1="387.75" y1="385.00" x2="391.75" y2="385.00" stroke="#aaa" stroke-width="0.7"/>
<line x1="387.75" y1="398.75" x2="391.75" y2="398.75" stroke="#aaa" stroke-width="0.7"/>
<line x1="399.50" y1="379.25" x2="399.50" y2="392.00" stroke="#aaa" stroke-width="0.7"/>
<line x1="397.50" y1="379.25" x2="401.50" y2="379.25" stroke="#aaa" stroke-width="0.7"/>
<line x1="397.50" y1="392.00" x2="401.50" y2="392.00" stroke="#aaa" stroke-width="0.7"/>
<line x1="411.25" y1="367.00" x2="411.25" y2="379.50" stroke="#aaa" stroke-width="0.7"/>
<line x1="409.25" y1="367.00" x2="413.25" y2="367.00" stroke="#aaa" stroke-width="0.7"/>
<line x1="409.25" y1="379.50" x2="413.25" y2="379.50" stroke="#aaa" stroke-width="0.7"/>
<line x1="422.75" y1="358.00" x2="422.75" y2="364.00" stroke="#aaa" stroke-width="0.7"/>
<line x1="420.75" y1="358.00" x2="424.75" y2="358.00" stroke="#aaa" stroke-width="0.7"/>
<line x1="420.75" y1="364.00" x2="424.75" y2="364.00" stroke="#aaa" stroke-width="0.7"/>
<line x1="438.25" y1="342.00" x2="438.25" y2="355.00" stroke="#aaa" stroke-width="0.7"/>
<line x1="436.25" y1="342.00" x2="440.25" y2="342.00" stroke="#aaa" stroke-width="0.7"/>
<line x1="436.25" y1="355.00" x2="440.25" y2="355.00" stroke="#aaa" stroke-width="0.7"/>
<line x1="461.50" y1="338.75" x2="461.50" y2="351.75" stroke="#aaa" stroke-width="0.7"/>
<line x1="459.50" y1="338.75" x2="463.50" y2="338.75" stroke="#aaa" stroke-width="0.7"/>
<line x1="459.50" y1="351.75" x2="463.50" y2="351.75" stroke="#aaa" stroke-width="0.7"/>
<rect x="330.00" y="469.00" width="6" height="6" fill="#000"/>
<rect x="335.50" y="478.30" width="6" height="6" fill="#000"/>
<rect x="345.00" y="472.00" width="6" height="6" fill="#000"/>
<rect x="355.50" y="450.75" width="6" height="6" fill="#000"/>
<rect x="369.50" y="431.50" width="6" height="6" fill="#000"/>
<rect x="378.25" y="401.00" width="6" height="6" fill="#000"/>
<rect x="382.75" y="394.75" width="6" height="6" fill="#000"/>
<rect x="386.75" y="388.75" width="6" height="6" fill="#000"/>
<rect x="396.50" y="382.25" width="6" height="6" fill="#000"/>
<rect x="408.25" y="370.25" width="6" height="6" fill="#000"/>
<rect x="419.75" y="358.00" width="6" height="6" fill="#000"/>
<rect x="435.25" y="345.25" width="6" height="6" fill="#000"/>
<rect x="458.50" y="342.50" width="6" height="6" fill="#000"/>
<g transform="translate(31.8,433.5) rotate(-90)" font-size="24" font-family="Liberation Sans, sans-serif" font-weight="bold">
<text x="0" y="0">Relaxation Rate T</text>
<text x="202.4" y="9">1</text>
<text x="208.8" y="-11.9">-1</text>
<text x="230" y="0">(ms</text>
<text x="273.2" y="-9.8">-1</text>
<text x="294.7" y="0">)</text>
</g>
</svg>
</body></html>
